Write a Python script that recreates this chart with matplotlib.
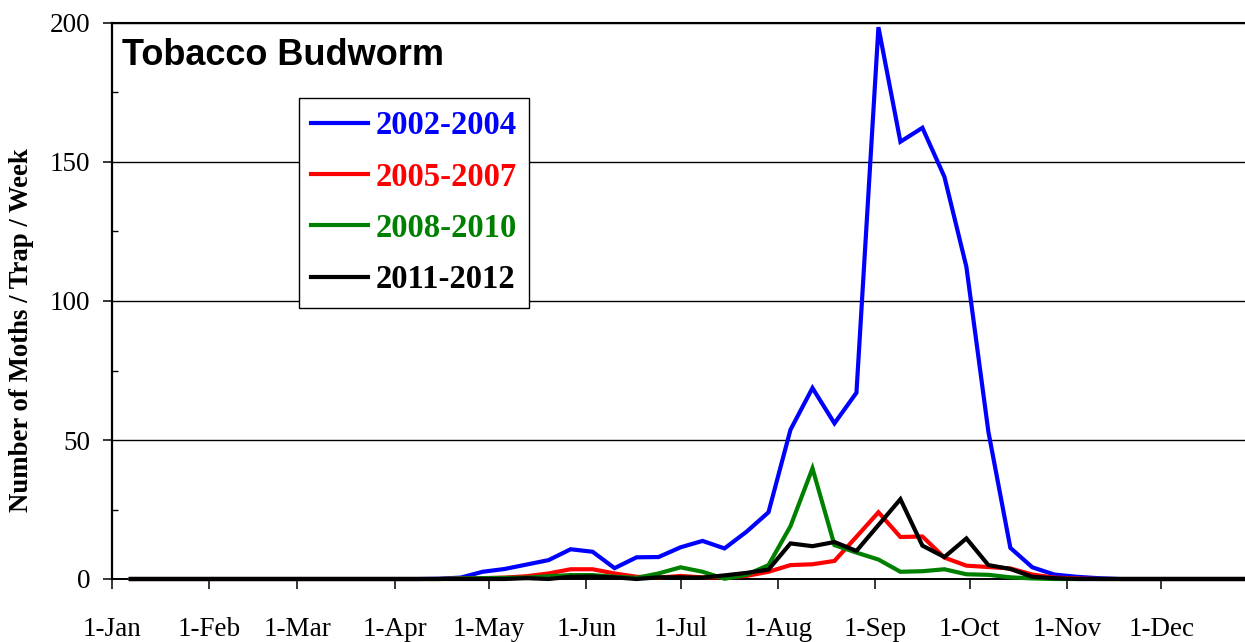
import numpy as np
import matplotlib
matplotlib.use("Agg")
import matplotlib.pyplot as plt
from matplotlib.ticker import MultipleLocator

# Weekly trap-catch sampling days (day of year, week 1 = 7 Jan)
week_day = np.arange(6, 364, 7)

# Mean moths / trap / week for each period (52 weekly values)
moths_2002_2004 = [0, 0, 0, 0, 0, 0, 0, 0, 0, 0, 0, 0, 0, 0, 0.1, 0.5,
                   2.6, 3.6, 5.2, 6.8, 10.7, 9.8, 3.9, 7.8, 7.9, 11.4,
                   13.7, 11.0, 17.0, 24.0, 53.7, 68.7, 56.0, 67.0, 198.5, 157.3,
                   162.3, 144.7, 112.3, 53.0, 11.2, 4.2, 1.6, 0.8, 0.3, 0,
                   0, 0, 0, 0, 0, 0]
moths_2005_2007 = [0, 0, 0, 0, 0, 0, 0, 0, 0, 0, 0, 0, 0, 0, 0, 0.2,
                   0.3, 0.5, 1.0, 2.0, 3.5, 3.5, 2.0, 0.8, 0.5, 1.1,
                   0.6, 0.6, 1.1, 2.6, 5.0, 5.3, 6.5, 15.2, 24.0, 15.1,
                   15.3, 7.7, 4.8, 4.3, 3.8, 1.6, 0.5, 0.2, 0, 0,
                   0, 0, 0, 0, 0, 0]
moths_2008_2010 = [0, 0, 0, 0, 0, 0, 0, 0, 0, 0, 0, 0, 0, 0, 0, 0.2,
                   0.3, 0.4, 0.5, 1.0, 1.4, 1.4, 0.8, 0.4, 2.0, 4.2,
                   2.6, 0.1, 1.5, 5.0, 19.0, 39.8, 12.2, 9.5, 7.0, 2.6,
                   2.8, 3.5, 1.7, 1.5, 0.6, 0.2, 0, 0, 0, 0,
                   0, 0, 0, 0, 0, 0]
moths_2011_2012 = [0, 0, 0, 0, 0, 0, 0, 0, 0, 0, 0, 0, 0, 0, 0, 0,
                   0, 0, 0.3, 0.0, 0.8, 0.9, 0.6, 0.0, 0.6, 0.6,
                   0.5, 1.3, 2.2, 3.4, 12.8, 11.8, 13.3, 10.1, 19.4, 28.7,
                   12.0, 7.9, 14.6, 5.0, 3.6, 0.8, 0.3, 0, 0, 0,
                   0, 0, 0, 0, 0, 0]

series_labels = ["2002-2004", "2005-2007", "2008-2010", "2011-2012"]
series_colors = ["#0000FF", "#FF0000", "#008000", "#000000"]

month_days = [0, 31, 59, 90, 120, 151, 181, 212, 243, 273, 304, 334]
month_labels = ["1-Jan", "1-Feb", "1-Mar", "1-Apr", "1-May", "1-Jun",
                "1-Jul", "1-Aug", "1-Sep", "1-Oct", "1-Nov", "1-Dec"]
y_major = [0, 50, 100, 150, 200]

SERIF = "Liberation Serif"
SANS = "Liberation Sans"

W, H = 1245, 642
fig = plt.figure(figsize=(W / 100, H / 100), dpi=100)
fig.patch.set_facecolor("white")

ax = fig.add_axes([112 / W, 63 / H, (W - 112) / W, (579 - 23) / H])

for vals, lab, col in zip([moths_2002_2004, moths_2005_2007,
                           moths_2008_2010, moths_2011_2012],
                          series_labels, series_colors):
    ax.plot(week_day, vals, color=col, lw=3.0, label=lab,
            solid_joinstyle="miter", clip_on=False, zorder=3)

ax.set_xlim(0, 360.7)
ax.set_ylim(0, 200)

ax.set_xticks(month_days)
ax.set_xticklabels(month_labels, fontfamily=SERIF, fontsize=19.5)
ax.set_yticks(y_major)
ax.set_yticklabels([str(v) for v in y_major], fontfamily=SERIF, fontsize=19.5)
ax.yaxis.set_minor_locator(MultipleLocator(25))

ax.tick_params(axis="x", direction="out", length=7, width=1.1, pad=20,
               colors="black")
ax.tick_params(axis="y", which="major", direction="out", length=6.5,
               width=1.1, pad=9, colors="black")
ax.tick_params(axis="y", which="minor", direction="in", length=4,
               width=1.0, colors="black")

ax.yaxis.grid(True, which="major", color="black", lw=1.0, zorder=1)
ax.set_axisbelow(True)

ax.spines["right"].set_visible(False)
ax.spines["left"].set_linewidth(1.6)
ax.spines["bottom"].set_linewidth(1.4)
ax.spines["top"].set_linewidth(1.5)

# Panel title
fig.text(122 / W, 1 - 65 / H, "Tobacco Budworm", fontfamily=SANS,
         fontweight="bold", fontsize=26, va="baseline", ha="left")

# Y-axis title
fig.text(22 / W, 1 - 330 / H, "Number of Moths / Trap / Week",
         fontfamily=SERIF, fontweight="bold", fontsize=19.3,
         rotation=90, va="center", ha="center")

leg = ax.legend(loc="upper left", bbox_to_anchor=(299 / W, 1 - 98 / H),
                bbox_transform=fig.transFigure, borderaxespad=0,
                prop={"family": SERIF, "weight": "bold", "size": 23.5},
                labelcolor="linecolor", handlelength=1.72,
                handletextpad=0.25, labelspacing=0.62, borderpad=0.38,
                fancybox=False, framealpha=1, edgecolor="black")
leg.get_frame().set_linewidth(1.0)
leg.set_zorder(5)

fig.savefig("out.png", dpi=100, facecolor="white")
